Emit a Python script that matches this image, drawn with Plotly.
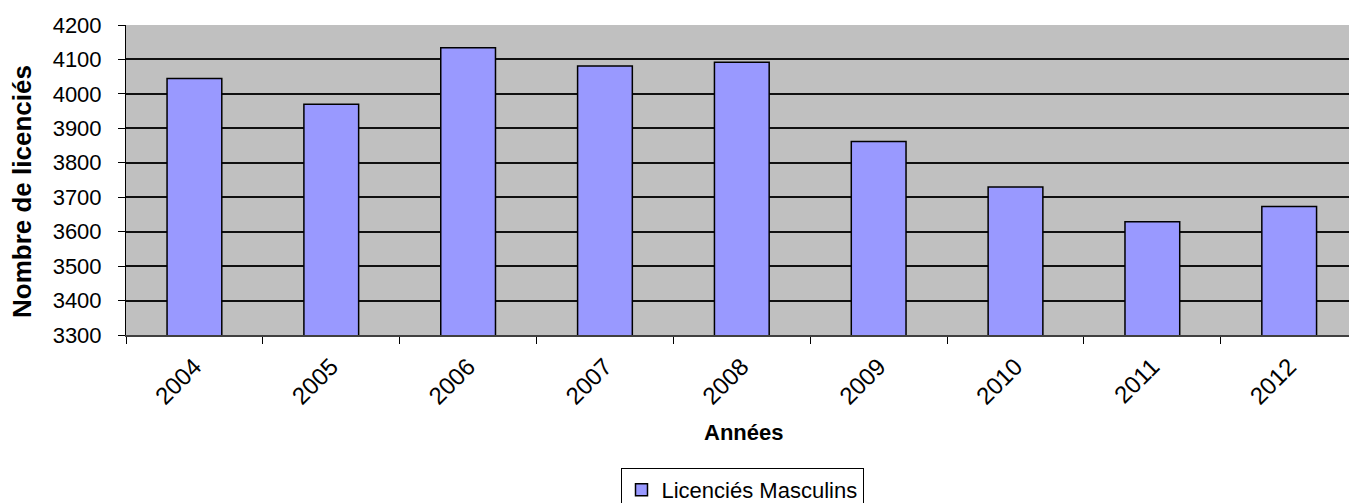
import plotly.graph_objects as go

years = ["2004", "2005", "2006", "2007", "2008", "2009", "2010", "2011", "2012"]
licencies_masculins = [4045, 3970, 4134, 4081, 4092, 3862, 3730, 3629, 3673]
series_name = "Licenciés Masculins"
y_title = "Nombre de licenciés"
x_title = "Années"

W, H = 1349, 503
ML, MR, MT, MB = 126, 0, 25, 168
FONT = "Liberation Sans, Arial, sans-serif"
PW, PH = W - ML - MR, H - MT - MB

fig = go.Figure()
fig.add_trace(go.Bar(
    x=years, y=licencies_masculins, name=series_name,
    width=0.4,
    marker=dict(color="#9999FF", line=dict(color="black", width=1.5)),
    showlegend=True,
))

fig.update_layout(
    width=W, height=H,
    margin=dict(l=ML, r=MR, t=MT, b=MB, pad=0, autoexpand=False),
    paper_bgcolor="white",
    plot_bgcolor="#C0C0C0",
    font=dict(family=FONT, size=22, color="black"),
    showlegend=True,
    legend=dict(
        orientation="h",
        x=(742 - ML) / PW, xanchor="center",
        y=(335 - 468) / PH, yanchor="top",
        bordercolor="black", borderwidth=1, bgcolor="white",
        itemwidth=30,
        font=dict(family=FONT, size=22, color="black"),
    ),
    xaxis=dict(
        type="category",
        range=[-0.5, 8.437],
        tickangle=-45,
        tickson="boundaries",
        ticks="outside", ticklen=7, tickcolor="black", tickwidth=1,
        showline=True, linecolor="#404040", linewidth=2,
        showgrid=False,
        automargin=False,
        ticklabelstandoff=6,
        tickfont=dict(family=FONT, size=24, color="black"),
    ),
    yaxis=dict(
        range=[3300, 4200],
        dtick=100,
        ticks="outside", ticklen=7, tickcolor="black", tickwidth=1,
        showline=True, linecolor="black", linewidth=1,
        showgrid=True, gridcolor="#101010", gridwidth=1.5,
        zeroline=False,
        automargin=False,
        ticklabelstandoff=12,
        tickfont=dict(family=FONT, size=22, color="black"),
    ),
    annotations=[
        dict(text="<b>%s</b>" % y_title, xref="paper", yref="paper",
             x=(22 - ML) / PW, y=(335 - 192) / PH,
             xanchor="center", yanchor="middle", textangle=-90,
             showarrow=False, font=dict(family=FONT, size=26, color="black")),
        dict(text="<b>%s</b>" % x_title, xref="paper", yref="paper",
             x=(743 - ML) / PW, y=(335 - 432) / PH,
             xanchor="center", yanchor="middle",
             showarrow=False, font=dict(family=FONT, size=22, color="black")),
    ],
)

fig.write_html(
    "out.html",
    config={"displayModeBar": False},
    post_script="document.body.style.margin='0';document.body.style.overflow='hidden';",
)
